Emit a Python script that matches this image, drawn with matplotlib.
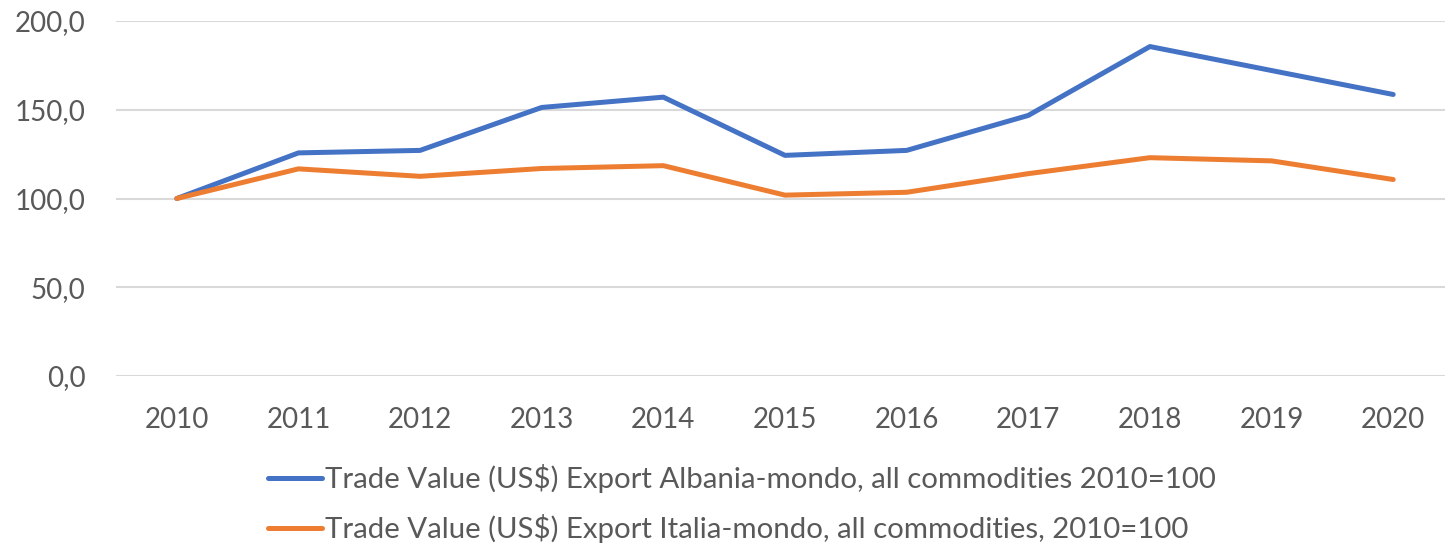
import matplotlib
matplotlib.use("Agg")
import matplotlib.pyplot as plt
from matplotlib.ticker import FuncFormatter

years = ["2010", "2011", "2012", "2013", "2014", "2015", "2016", "2017", "2018", "2019", "2020"]
albania = [100.0, 125.7, 127.1, 151.3, 157.1, 124.3, 127.1, 146.8, 185.6, 172.1, 158.6]
italia = [100.0, 116.7, 112.5, 116.9, 118.5, 101.9, 103.5, 114.0, 123.0, 121.2, 110.7]
label_albania = "Trade Value (US$) Export Albania-mondo, all commodities 2010=100"
label_italia = "Trade Value (US$) Export Italia-mondo, all commodities, 2010=100"
yticks = [0, 50, 100, 150, 200]

plt.rcParams['font.family'] = ['Lato', 'DejaVu Sans']
text_color = "#595959"

fig = plt.figure(figsize=(14.45, 5.5), dpi=100)
ax = fig.add_axes([116/1445, (550-376)/550, (1454-116)/1445, (376-21)/550])

x = list(range(len(years)))
ax.plot(x, albania, color="#4472C4", lw=3.6, solid_capstyle="round", solid_joinstyle="round",
        label=label_albania, zorder=3)
ax.plot(x, italia, color="#ED7D31", lw=3.6, solid_capstyle="round", solid_joinstyle="round",
        label=label_italia, zorder=3)

ax.set_xlim(-0.5, len(years) - 0.5)
ax.set_ylim(0, 200)
ax.set_yticks(yticks)
ax.yaxis.set_major_formatter(FuncFormatter(lambda v, p: f"{v:.1f}".replace(".", ",")))
ax.set_xticks(x)
ax.set_xticklabels(years)
ax.grid(axis="y", color="#d9d9d9", lw=1.5, zorder=0)
for s in ax.spines.values():
    s.set_visible(False)
ax.tick_params(axis="both", length=0, labelsize=20, labelcolor=text_color)
ax.tick_params(axis="y", pad=22)
ax.tick_params(axis="x", pad=22)

fig.legend(loc="center left", bbox_to_anchor=(268/1445, (550-503.5)/550), frameon=False,
           fontsize=21.2, labelcolor=text_color, handlelength=1.85, handletextpad=0.1,
           labelspacing=0.72, borderpad=0, borderaxespad=0)

fig.savefig("out.png", dpi=100)
